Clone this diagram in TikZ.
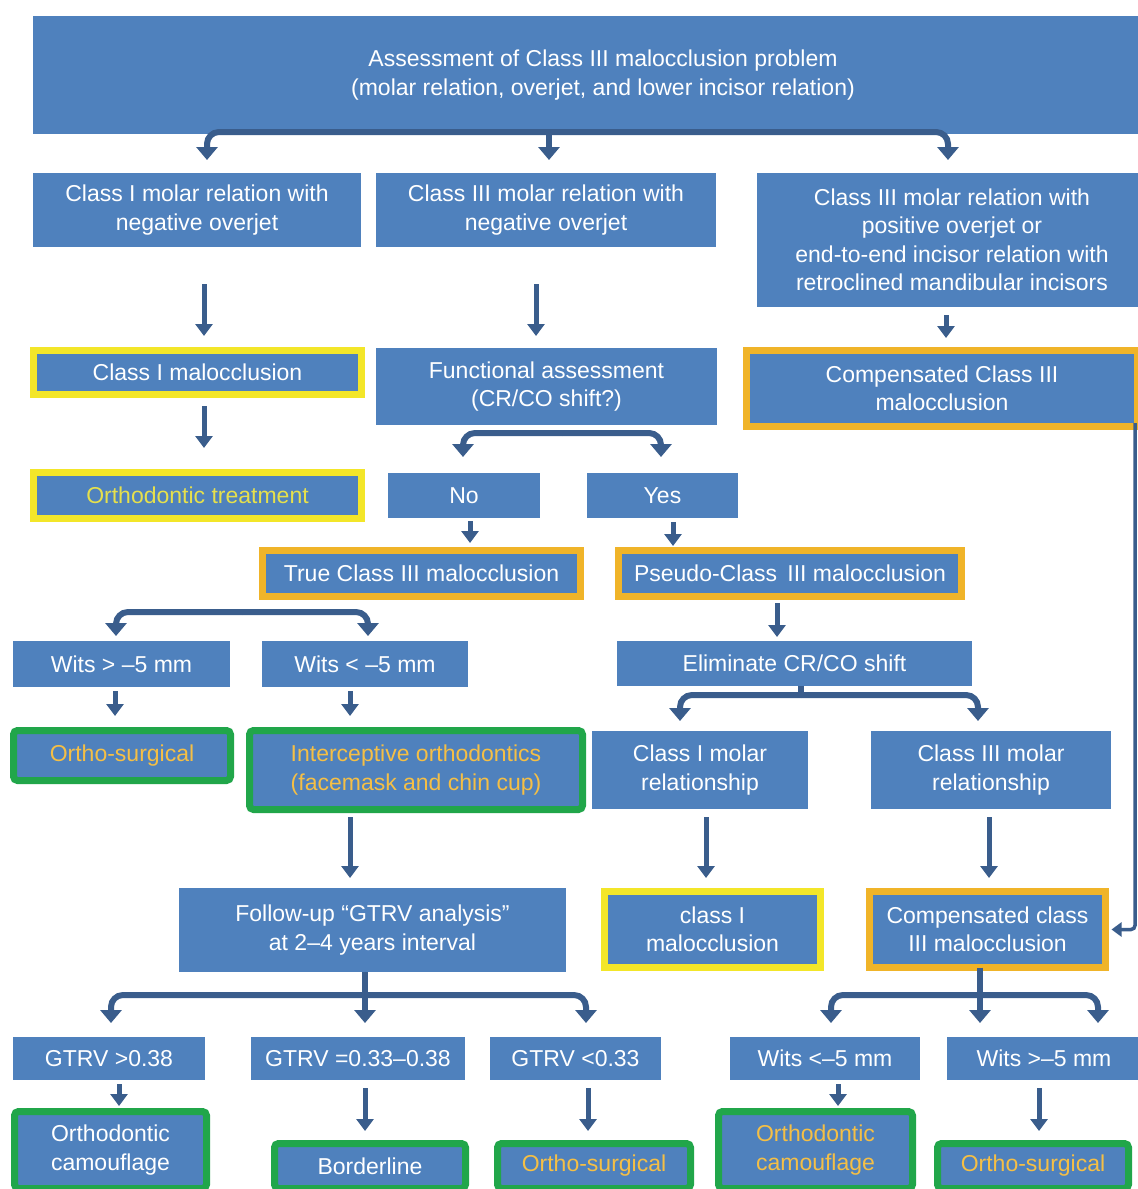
\documentclass[tikz,border=0pt]{standalone}
\usepackage{fontspec}
\setmainfont{Liberation Sans}
\usetikzlibrary{arrows.meta}
\definecolor{cblue}{HTML}{4F81BD}
\definecolor{cdark}{HTML}{3A5D8C}
\definecolor{cyel}{HTML}{F3E629}
\definecolor{corg}{HTML}{F0B429}
\definecolor{cgrn}{HTML}{21A64A}
\definecolor{tyel}{HTML}{E6E04C}
\definecolor{torg}{HTML}{F5BF45}
\begin{document}
\begin{tikzpicture}[x=1pt,y=-1pt,
  box/.style={fill=cblue, text=white, align=center, inner sep=0pt, outer sep=0pt,
              font=\fontsize{23}{28.5}\selectfont},
  ybox/.style={box, draw=cyel, line width=7pt},
  obox/.style={box, draw=corg, line width=7pt},
  gbox/.style={box, draw=cgrn, line width=7pt, rounded corners=4pt},
  arr/.style={draw=cdark, line width=5pt, -{Triangle[width=17pt,length=12pt]}},
  brk/.style={draw=cdark, line width=6pt, rounded corners=12pt, -{Triangle[width=21pt,length=13pt]}},
  brkline/.style={draw=cdark, line width=6pt},
  thinarr/.style={draw=cdark, line width=3.5pt, rounded corners=4pt, -{Triangle[width=14pt,length=10pt]}}]
\useasboundingbox (0,0) rectangle (1138,1189);
\clip (0,0) rectangle (1138,1189);
\fill[white] (0,0) rectangle (1138,1189);

% row 1
\node[box, minimum width=1140pt, minimum height=118pt] (top) at (603,75)
  {Assessment of Class III malocclusion problem\\(molar relation, overjet, and lower incisor relation)};
% row 2
\node[box, minimum width=328pt, minimum height=74pt] (A1) at (197,210) {Class I molar relation with\\negative overjet};
\node[box, minimum width=340pt, minimum height=74pt] (A2) at (546,210) {Class III molar relation with\\negative overjet};
\node[box, minimum width=390pt, minimum height=134pt] (A3) at (952,240)
  {Class III molar relation with\\positive overjet or\\end-to-end incisor relation with\\retroclined mandibular incisors};
% row 3
\node[ybox, minimum width=328pt, minimum height=44pt] (B1) at (197.5,372.5) {Class I malocclusion};
\node[box, minimum width=341pt, minimum height=77pt] (B2) at (546.5,386.5) {Functional assessment\\(CR/CO shift?)};
\node[obox, minimum width=391pt, minimum height=76pt] (B3) at (942,388.5) {Compensated Class III\\malocclusion};
% row 4
\node[ybox, text=tyel, minimum width=328pt, minimum height=46pt] (C1) at (197.5,495.5) {Orthodontic treatment};
\node[box, minimum width=152pt, minimum height=45pt] (C2) at (464,495.5) {No};
\node[box, minimum width=151pt, minimum height=45pt] (C3) at (662.5,495.5) {Yes};
% row 5
\node[obox, minimum width=318pt, minimum height=46pt] (D1) at (421.5,573.5) {True Class III malocclusion};
\node[obox, minimum width=343pt, minimum height=46pt] (D2) at (790,573.5) {Pseudo-Class\, III malocclusion};
% row 6
\node[box, minimum width=217pt, minimum height=46pt] (E1a) at (121.5,664) {Wits > –5 mm};
\node[box, minimum width=206pt, minimum height=46pt] (E1b) at (365,664) {Wits < –5 mm};
\node[box, minimum width=355pt, minimum height=45pt] (E2) at (794.5,663.5) {Eliminate CR/CO shift};
% row 7
\node[gbox, text=torg, minimum width=217pt, minimum height=50pt] (F1a) at (122,755.5) {Ortho-surgical};
\node[gbox, text=torg, minimum width=333pt, minimum height=79pt] (F1b) at (416,770)
  {Interceptive orthodontics\\(facemask and chin cup)};
\node[box, minimum width=216pt, minimum height=78pt] (F2a) at (700,770) {Class I molar\\relationship};
\node[box, minimum width=240pt, minimum height=78pt] (F2b) at (991,770) {Class III molar\\relationship};
% row 8
\node[box, minimum width=387pt, minimum height=84pt] (G1) at (372.5,930) {Follow-up “GTRV analysis”\\at 2–4 years interval};
\node[ybox, minimum width=216pt, minimum height=76pt] (G2) at (712.5,929.5) {class I\\malocclusion};
\node[obox, minimum width=236pt, minimum height=76pt] (G3) at (987.5,929.5) {Compensated class\\III malocclusion};
% row 9
\node[box, minimum width=192pt, minimum height=43pt] (H1) at (109,1058.5) {GTRV >0.38};
\node[box, minimum width=214pt, minimum height=43pt] (H2) at (358,1058.5) {GTRV =0.33–0.38};
\node[box, minimum width=171pt, minimum height=43pt] (H3) at (575.5,1058.5) {GTRV <0.33};
\node[box, minimum width=190pt, minimum height=43pt] (H4) at (825,1058.5) {Wits <–5 mm};
\node[box, minimum width=194pt, minimum height=43pt] (H5) at (1044,1058.5) {Wits >–5 mm};
% row 10
\node[gbox, minimum width=192pt, minimum height=77pt] (I1) at (110.5,1150) {Orthodontic\\camouflage};
\node[gbox, minimum width=191pt, minimum height=45pt] (I2) at (370,1166) {Borderline};
\node[gbox, text=torg, minimum width=193pt, minimum height=45pt] (I3) at (594,1166) {Ortho-surgical};
\node[gbox, text=torg, minimum width=194pt, minimum height=77pt] (I4) at (815.5,1150) {Orthodontic\\camouflage};
\node[gbox, text=torg, minimum width=191pt, minimum height=45pt] (I5) at (1033,1166) {Ortho-surgical};

% bracket under top box
\coordinate (jT) at (549,132);
\coordinate (tA1) at (207,160);
\coordinate (tA2) at (549,160);
\coordinate (tA3) at (948,160);
\draw[brk] (jT) -| (tA1);
\draw[brk] (jT) -| (tA3);
\draw[brk] (jT) -- (tA2);

% straight arrows
\draw[arr, shorten <=37pt, shorten >=14.5pt] ([xshift=7pt]A1.south) -- ([xshift=6.5pt]B1.north);
\draw[arr, shorten <=37pt, shorten >=12pt] ([xshift=-10pt]A2.south) -- ([xshift=-10.5pt]B2.north);
\draw[arr, shorten <=8pt, shorten >=12.5pt] ([xshift=-6pt]A3.south) -- ([xshift=4pt]B3.north);
\draw[arr, shorten <=11.5pt, shorten >=24.5pt] ([xshift=6.5pt]B1.south) -- ([xshift=6.5pt]C1.north);

% bracket under functional assessment
\coordinate (jB2) at (562,433);
\coordinate (tNo) at (463,457);
\coordinate (tYes) at (661,457);
\draw[brk] (jB2) -| (tNo);
\draw[brk] (jB2) -| (tYes);

\draw[arr, shorten <=3pt, shorten >=7.5pt] ([xshift=6pt]C2.south) -- ([xshift=48.5pt]D1.north);
\draw[arr, shorten <=4pt, shorten >=4.5pt] ([xshift=10.5pt]C3.south) -- ([xshift=-117pt]D2.north);

% bracket under true class III
\coordinate (jD1) at (242,612);
\coordinate (tE1a) at (116,636);
\coordinate (tE1b) at (368,636);
\draw[brk] (jD1) -| (tE1a);
\draw[brk] (jD1) -| (tE1b);

\draw[arr, shorten <=6.5pt, shorten >=4pt] ([xshift=-13pt]D2.south) -- ([xshift=-17.5pt]E2.north);

\draw[arr, shorten <=4pt, shorten >=14.5pt] ([xshift=-6.5pt]E1a.south) -- ([xshift=-7pt]F1a.north);
\draw[arr, shorten <=4pt, shorten >=14.5pt] ([xshift=-15pt]E1b.south) -- ([xshift=-66pt]F1b.north);

% bracket under eliminate shift
\coordinate (jE2) at (801,695);
\coordinate (tF2a) at (680,721);
\coordinate (tF2b) at (978,721);
\draw[brkline] ([xshift=6.5pt]E2.south) -- (jE2);
\draw[brk] (jE2) -| (tF2a);
\draw[brk] (jE2) -| (tF2b);

\draw[arr, shorten <=7.5pt, shorten >=10pt] ([xshift=-66pt]F1b.south) -- ([xshift=-22.5pt]G1.north);
\draw[arr, shorten <=8pt, shorten >=13.5pt] ([xshift=6pt]F2a.south) -- ([xshift=-6.5pt]G2.north);
\draw[arr, shorten <=8pt, shorten >=13.5pt] ([xshift=-2pt]F2b.south) -- ([xshift=1.5pt]G3.north);

% right connector
\draw[thinarr, shorten >=6pt] ([shift={(-2.5pt,3.5pt)}]B3.south east) |- (G3.east);

% bracket under follow-up
\coordinate (jG1) at (365,995);
\coordinate (tH1) at (111,1023);
\coordinate (tH2) at (365,1023);
\coordinate (tH3) at (586,1023);
\draw[brkline] ([xshift=-7.5pt]G1.south) -- (jG1);
\draw[brk] (jG1) -| (tH1);
\draw[brk] (jG1) -| (tH3);
\draw[brk] (jG1) -- (tH2);

% bracket under compensated class III
\coordinate (jG3) at (980,995);
\coordinate (tH4) at (831,1023);
\coordinate (tH45) at (980,1023);
\coordinate (tH5) at (1098,1023);
\draw[brkline] ([xshift=-7.5pt]G3.south) -- (jG3);
\draw[brk] (jG3) -| (tH4);
\draw[brk] (jG3) -| (tH5);
\draw[brk] (jG3) -- (tH45);

% bottom arrows
\draw[arr, shorten <=4pt, shorten >=5.5pt] ([xshift=10pt]H1.south) -- ([xshift=8.5pt]I1.north);
\draw[arr, shorten <=8pt, shorten >=12.5pt] ([xshift=7pt]H2.south) -- ([xshift=-5pt]I2.north);
\draw[arr, shorten <=8pt, shorten >=12.5pt] ([xshift=12.5pt]H3.south) -- ([xshift=-6pt]I3.north);
\draw[arr, shorten <=4pt, shorten >=5.5pt] ([xshift=13pt]H4.south) -- ([xshift=22.5pt]I4.north);
\draw[arr, shorten <=8pt, shorten >=12.5pt] ([xshift=-5pt]H5.south) -- ([xshift=6pt]I5.north);
\end{tikzpicture}
\end{document}
